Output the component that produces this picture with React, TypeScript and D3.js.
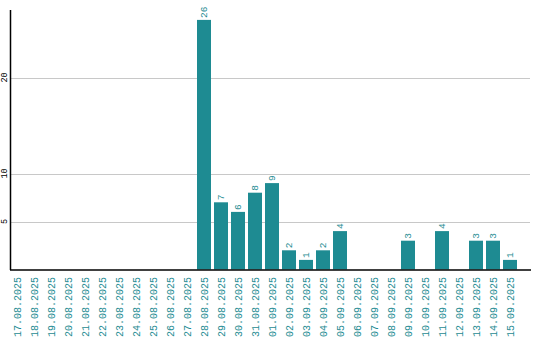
import React from "react";
import * as d3 from "d3";

const dates = [
  "17.08.2025", "18.08.2025", "19.08.2025", "20.08.2025", "21.08.2025", "22.08.2025",
  "23.08.2025", "24.08.2025", "25.08.2025", "26.08.2025", "27.08.2025", "28.08.2025",
  "29.08.2025", "30.08.2025", "31.08.2025", "01.09.2025", "02.09.2025", "03.09.2025",
  "04.09.2025", "05.09.2025", "06.09.2025", "07.09.2025", "08.09.2025", "09.09.2025",
  "10.09.2025", "11.09.2025", "12.09.2025", "13.09.2025", "14.09.2025", "15.09.2025",
];
const values = [0, 0, 0, 0, 0, 0, 0, 0, 0, 0, 0, 26, 7, 6, 8, 9, 2, 1, 2, 4, 0, 0, 0, 3, 0, 4, 0, 3, 3, 1];
const yTicks = [5, 10, 20];

const W = 540;
const H = 340;
const TEAL = "#1e8b92";
const FONT = "'Liberation Mono', 'DejaVu Sans Mono', monospace";

export default function App() {
  const left = 10;
  const right = 530;
  const top = 10;
  const bottom = 270;

  const x = d3.scaleBand<string>().domain(dates).range([left, left + 507]).paddingInner(3 / 17).paddingOuter(0);
  const y = d3.scaleLinear().domain([0, 26]).range([269.5, 269.5 - 26 * 9.6]);

  return (
    <svg width={W} height={H} style={{ position: "absolute", left: 0, top: 0, background: "#fff" }}>
      {yTicks.map((t) => (
        <g key={t}>
          <line x1={left} x2={right} y1={Math.round(y(t)) + 0.5} y2={Math.round(y(t)) + 0.5} stroke="#c8c8c8" strokeWidth={1} />
          <text
            transform={`translate(4,${y(t)}) rotate(-90)`}
            textAnchor="middle"
            dy="0.35em"
            fontFamily={FONT}
            fontSize={8.5}
            fill="#000"
          >
            {t}
          </text>
        </g>
      ))}
      {dates.map((d, i) => {
        const v = values[i];
        const bx = x(d)!;
        const bw = x.bandwidth();
        const cx = bx + bw / 2;
        return (
          <g key={d}>
            {v > 0 && (
              <>
                <rect x={bx} y={y(v)} width={bw} height={y(0) - y(v)} fill={TEAL} />
                <text
                  transform={`translate(${cx},${y(v) - 2}) rotate(-90)`}
                  textAnchor="start"
                  dy="0.35em"
                  fontFamily={FONT}
                  fontSize={9.5}
                  fill={TEAL}
                >
                  {v}
                </text>
              </>
            )}
            <text
              transform={`translate(${cx},277) rotate(-90)`}
              textAnchor="end"
              dy="0.35em"
              fontFamily={FONT}
              fontSize={10}
              fill={TEAL}
            >
              {d}
            </text>
          </g>
        );
      })}
      <line x1={left + 0.5} x2={left + 0.5} y1={top} y2={bottom} stroke="#000" strokeWidth={1.5} />
      <line x1={left} x2={right + 1} y1={bottom} y2={bottom} stroke="#000" strokeWidth={1.5} />
    </svg>
  );
}
